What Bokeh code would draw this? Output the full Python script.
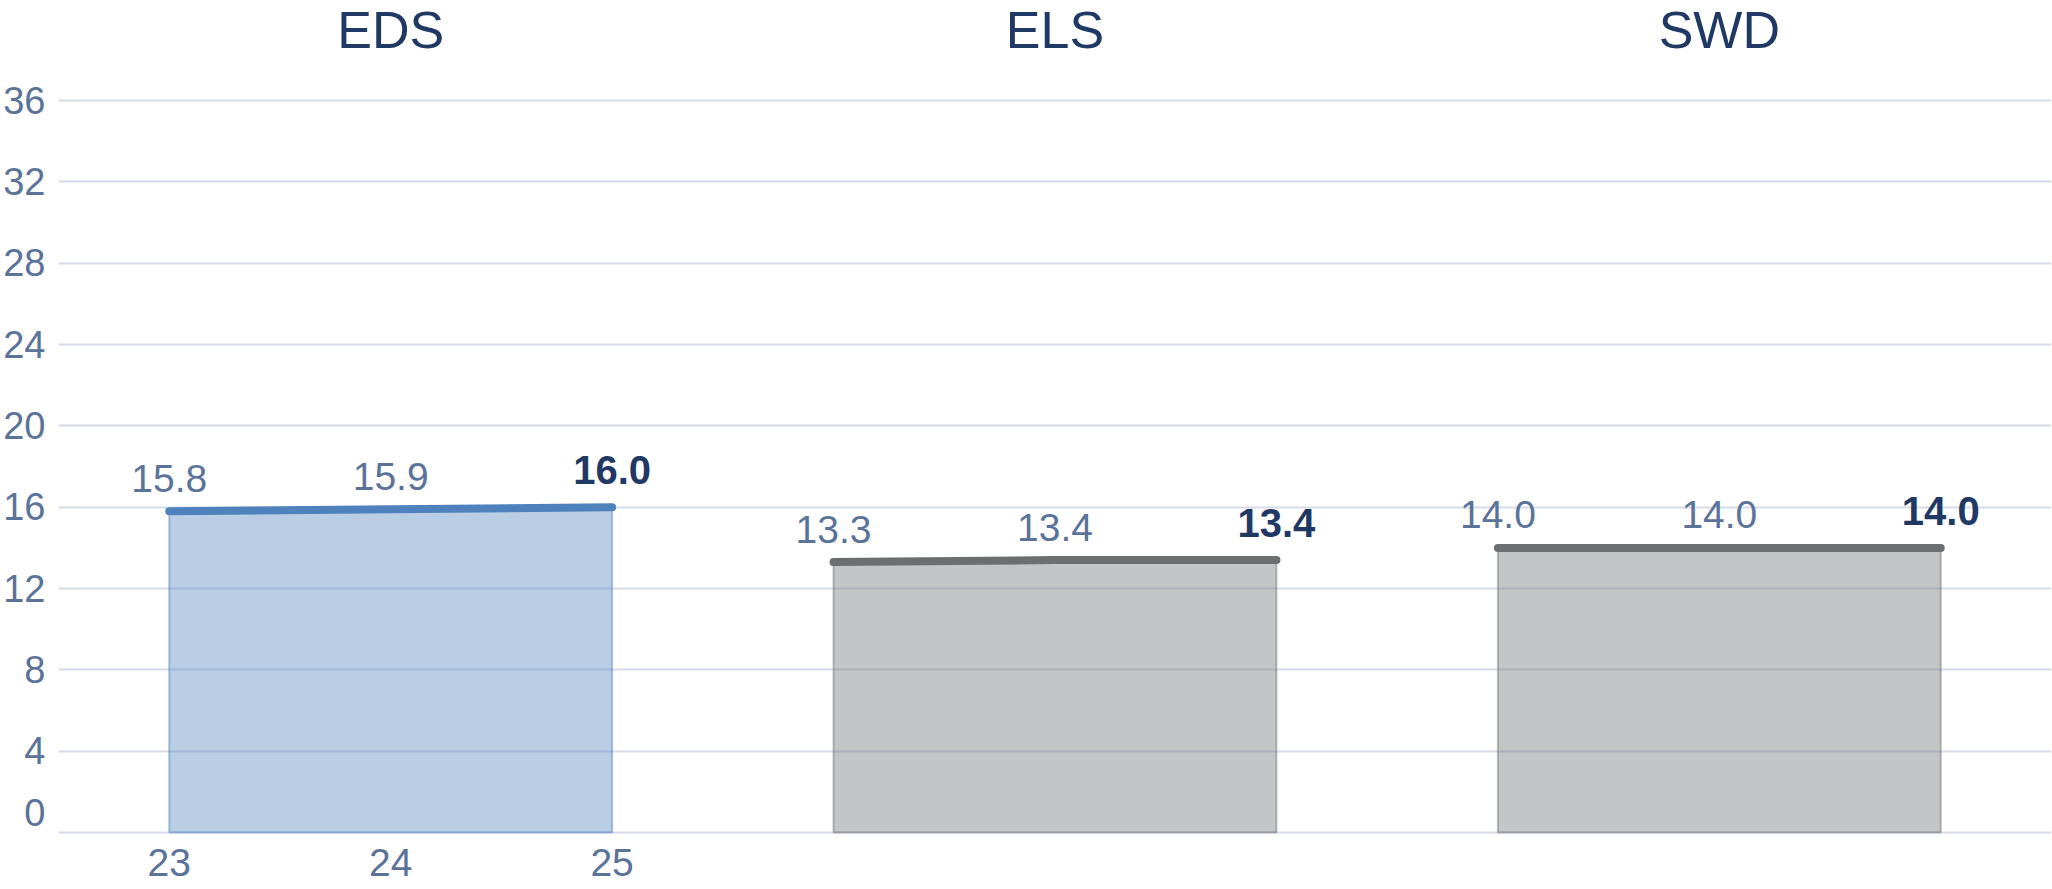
from bokeh.plotting import figure
from bokeh.models import Range1d, FixedTicker, ColumnDataSource
from bokeh.core.properties import value
from bokeh.embed import file_html
from bokeh.resources import INLINE

# ---- data ----
groups = ["EDS", "ELS", "SWD"]
years = [23, 24, 25]
eds = [15.8, 15.9, 16.0]
els = [13.3, 13.4, 13.4]
swd = [14.0, 14.0, 14.0]
series = [eds, els, swd]
y_ticks = [0, 4, 8, 12, 16, 20, 24, 28, 32, 36]

# ---- styles ----
FONT = "Liberation Sans"
LABEL_COLOR = "#5b7399"
DARK = "#1f3864"
GRID = "#d6dbe7"
line_colors = ["#4f81bd", "#6c6f70", "#6c6f70"]

panel_span = len(years)  # each panel spans 3 x-units
x_start = years[0] - 0.5
x_end = x_start + panel_span * len(groups)

p = figure(width=2052, height=889, output_backend="svg", toolbar_location=None,
           x_range=Range1d(x_start, x_end), y_range=Range1d(-2.8, 40.92),
           min_border_left=51, min_border_right=1, min_border_top=0,
           min_border_bottom=0)
p.outline_line_color = None
p.background_fill_color = "white"
p.border_fill_color = "white"

# axes
p.yaxis.ticker = FixedTicker(ticks=y_ticks)
p.yaxis.major_label_overrides = {0: "0\n "}
p.yaxis.major_label_text_line_height = 0.95
p.xaxis.ticker = FixedTicker(ticks=years)
p.xaxis.fixed_location = 0
for ax in (p.xaxis[0], p.yaxis[0]):
    ax.axis_line_color = None
    ax.major_tick_line_color = None
    ax.minor_tick_line_color = None
    ax.major_label_text_font = FONT
    ax.major_label_text_color = LABEL_COLOR
p.yaxis.major_label_text_font_size = "38px"
p.yaxis.major_label_standoff = 7
p.xaxis.major_label_text_font_size = "39px"
p.xaxis.major_label_standoff = 10

p.xgrid.visible = False
p.ygrid.ticker = FixedTicker(ticks=y_ticks)
p.ygrid.grid_line_color = GRID
p.ygrid.grid_line_width = 2

for i, (g, vals) in enumerate(zip(groups, series)):
    xs = [yr + panel_span * i for yr in years]
    col = line_colors[i]
    # shaded area under the line
    p.patch([xs[0]] + xs + [xs[-1]], [0] + vals + [0],
            fill_color=col, fill_alpha=0.4, line_color=col, line_alpha=0.45,
            line_width=2)
    p.line(xs, vals, line_color=col, line_width=8, line_cap="round", line_join="round")
    # title
    p.text(x=[sum(xs) / len(xs)], y=[39.45], text=[g], text_align="center",
           text_baseline="middle", text_font=value(FONT), text_font_size="52px",
           text_color=DARK)
    # value labels
    src = ColumnDataSource(dict(x=xs[:-1], y=vals[:-1], t=[f"{v:.1f}" for v in vals[:-1]]))
    p.text(x="x", y="y", text="t", source=src, y_offset=-33, text_align="center",
           text_baseline="middle", text_font=value(FONT), text_font_size="39px",
           text_color=LABEL_COLOR)
    p.text(x=[xs[-1]], y=[vals[-1]], text=[f"{vals[-1]:.1f}"], y_offset=-37,
           text_align="center", text_baseline="middle", text_font=value(FONT),
           text_font_size="40px", text_font_style="bold", text_color=DARK)

open("out.html", "w").write(file_html(p, INLINE))
